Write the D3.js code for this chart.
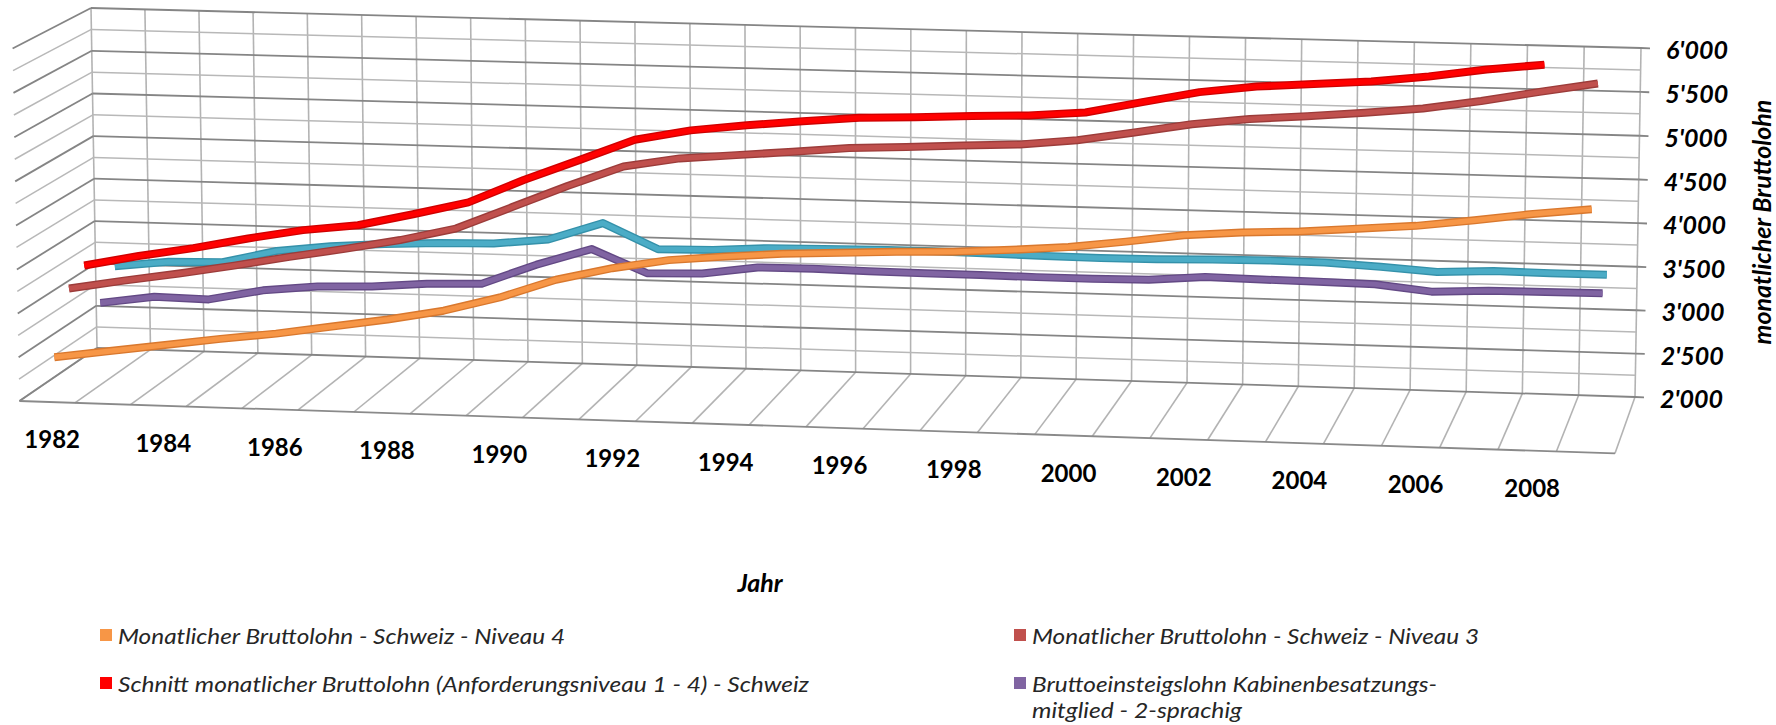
<!DOCTYPE html>
<html>
<head>
<meta charset="utf-8">
<script src="https://cdn.jsdelivr.net/npm/d3@7"></script>
<style>
  html, body { margin: 0; padding: 0; background: #ffffff; }
  svg { display: block; }
</style>
</head>
<body>
<svg id="chart" width="1776" height="725"></svg>
<script>
// ---- data -------------------------------------------------------------
const years = [1982, 1983, 1984, 1985, 1986, 1987, 1988, 1989, 1990, 1991,
               1992, 1993, 1994, 1995, 1996, 1997, 1998, 1999, 2000, 2001,
               2002, 2003, 2004, 2005, 2006, 2007, 2008, 2009];
const yearLabels = [1982, 1984, 1986, 1988, 1990, 1992, 1994, 1996, 1998, 2000, 2002, 2004, 2006, 2008];
const valueTicks = [2000, 2500, 3000, 3500, 4000, 4500, 5000, 5500, 6000];

// monthly gross wage, CHF
const niveau4   = [2450, 2540, 2630, 2720, 2800, 2900, 3000, 3120, 3290, 3510, 3660, 3770, 3830, 3880,
                   3910, 3940, 3960, 4000, 4050, 4130, 4220, 4270, 4300, 4350, 4400, 4480, 4570, 4640];
const niveau3   = [3120, 3230, 3330, 3440, 3560, 3670, 3790, 3940, 4200, 4460, 4700, 4810, 4865, 4920,
                   4980, 5010, 5045, 5075, 5140, 5245, 5355, 5430, 5480, 5535, 5600, 5700, 5820, 5930];
const schnitt   = [3270, 3400, 3510, 3640, 3755, 3830, 3975, 4130, 4405, 4650, 4900, 5025, 5100, 5165,
                   5220, 5245, 5275, 5300, 5350, 5485, 5615, 5695, 5740, 5785, 5860, 5955, 6025];
const einstieg2 = [2720, 2810, 2800, 2925, 2990, 3010, 3060, 3080, 3320, 3520, 3260, 3275, 3365, 3370,
                   3360, 3355, 3355, 3350, 3350, 3360, 3410, 3400, 3395, 3385, 3320, 3350, 3355, 3360];
const einstieg1 = [3035, 3105, 3120, 3270, 3345, 3390, 3420, 3435, 3500, 3710, 3425, 3435, 3475, 3485,
                   3495, 3495, 3490, 3480, 3475, 3480, 3495, 3505, 3500, 3470, 3430, 3460, 3455, 3455];

// series, front row first
const seriesIds    = ["niveau4", "niveau3", "schnitt", "einstieg2", "einstieg1"];
const seriesValues = [niveau4, niveau3, schnitt, einstieg2, einstieg1];
const seriesColors = ["#f79646", "#c0504d", "#ff0000", "#8064a2", "#4bacc6"];
const seriesEdges  = ["#d9782e", "#9c3c3a", "#cf0000", "#634985", "#3491aa"];

const legendEntries = [
  { id: "niveau4",   col: 0, row: 0, lines: ["Monatlicher Bruttolohn - Schweiz - Niveau 4"], widths: [447] },
  { id: "niveau3",   col: 1, row: 0, lines: ["Monatlicher Bruttolohn - Schweiz - Niveau 3"], widths: [447] },
  { id: "schnitt",   col: 0, row: 1, lines: ["Schnitt monatlicher Bruttolohn (Anforderungsniveau 1 - 4) - Schweiz"], widths: [691] },
  { id: "einstieg2", col: 1, row: 1, lines: ["Bruttoeinsteigslohn Kabinenbesatzungs-", "mitglied - 2-sprachig"], widths: [405, 210] }
];

// ---- 3-D frame --------------------------------------------------------
// Screen position of the corners of the plot box: u (years) 0..1,
// v (value) 0..1, w (depth) 0 = back wall, 1 = front edge.
const corner = {
  back00: [97, 348], back10: [1635, 397], back11: [1641, 48], back01: [91, 8],
  front00: [19, 399], front10: [1615, 455], front01: [13, 49]
};

function squareToQuad(p0, p1, p2, p3) {
  const [x0, y0] = p0, [x1, y1] = p1, [x2, y2] = p2, [x3, y3] = p3;
  const dx1 = x1 - x2, dx2 = x3 - x2, dx3 = x0 - x1 + x2 - x3;
  const dy1 = y1 - y2, dy2 = y3 - y2, dy3 = y0 - y1 + y2 - y3;
  const den = dx1 * dy2 - dx2 * dy1;
  const g = (dx3 * dy2 - dx2 * dy3) / den;
  const h = (dx1 * dy3 - dx3 * dy1) / den;
  return { a: x1 - x0 + g * x1, b: x3 - x0 + h * x3, c: x0,
           d: y1 - y0 + g * y1, e: y3 - y0 + h * y3, f: y0, g, h };
}

function solve3(M, r) {
  const A = M.map((row, i) => row.concat([r[i]]));
  for (let i = 0; i < 3; i++) {
    let piv = i;
    for (let k = i + 1; k < 3; k++) if (Math.abs(A[k][i]) > Math.abs(A[piv][i])) piv = k;
    [A[i], A[piv]] = [A[piv], A[i]];
    for (let k = 0; k < 3; k++) {
      if (k === i) continue;
      const fct = A[k][i] / A[i][i];
      for (let j = i; j < 4; j++) A[k][j] -= fct * A[i][j];
    }
  }
  return [A[0][3] / A[0][0], A[1][3] / A[1][1], A[2][3] / A[2][2]];
}

const H = squareToQuad(corner.back00, corner.back10, corner.back11, corner.back01);

// depth column of the camera matrix, least squares over the front corners
const depthCol = (() => {
  const pts = [[0, 0, corner.front00], [1, 0, corner.front10], [0, 1, corner.front01]];
  const rows = [], rhs = [];
  pts.forEach(([u, v, [X, Y]]) => {
    const den = H.g * u + H.h * v + 1;
    rows.push([1, 0, -X]); rhs.push(X * den - (H.a * u + H.b * v + H.c));
    rows.push([0, 1, -Y]); rhs.push(Y * den - (H.d * u + H.e * v + H.f));
  });
  const N = [[0, 0, 0], [0, 0, 0], [0, 0, 0]], b = [0, 0, 0];
  rows.forEach((row, k) => {
    for (let i = 0; i < 3; i++) {
      b[i] += row[i] * rhs[k];
      for (let j = 0; j < 3; j++) N[i][j] += row[i] * row[j];
    }
  });
  return solve3(N, b);
})();

function project(u, v, w) {
  const [p, q, r] = depthCol;
  const den = H.g * u + H.h * v + r * w + 1;
  return [(H.a * u + H.b * v + p * w + H.c) / den,
          (H.d * u + H.e * v + q * w + H.f) / den];
}

// ---- scales -----------------------------------------------------------
const xBand = d3.scaleBand().domain(years).range([0, 1]);
const uOf = yr => xBand(yr) + xBand.bandwidth() / 2;
const vScale = d3.scaleLinear().domain([2000, 6000]).range([0, 1]);
const zBand = d3.scaleBand().domain(seriesIds).range([1, 0]);
const wOf = id => zBand(id) + zBand.bandwidth() / 2;

const fmt = d3.formatLocale({ decimal: ".", thousands: "'", grouping: [3], currency: ["", ""] }).format(",");

const svg = d3.select("#chart");
const seg = (a, b) => d3.line()([a, b]);

// ---- walls and floor --------------------------------------------------
const grid = svg.append("g").attr("fill", "none").attr("stroke-linecap", "butt");
const gridValues = d3.range(2000, 6001, 250);
const isMajor = val => val % 500 === 0;

// vertical lines of the back wall
grid.selectAll("path.bv").data(d3.range(0, years.length + 1)).join("path")
  .attr("class", "bv")
  .attr("d", i => seg(project(i / years.length, 0, 0), project(i / years.length, 1, 0)))
  .attr("stroke", "#b3b3b3").attr("stroke-width", 1.6);

// floor lines from the back wall to the front edge
grid.selectAll("path.fl").data(d3.range(0, years.length + 1)).join("path")
  .attr("class", "fl")
  .attr("d", i => seg(project(i / years.length, 0, 0), project(i / years.length, 0, 1)))
  .attr("stroke", "#b3b3b3").attr("stroke-width", 1.6);

// minor horizontal lines first, majors on top
const ordered = gridValues.filter(v => !isMajor(v)).concat(gridValues.filter(isMajor));
grid.selectAll("path.bh").data(ordered).join("path")
  .attr("class", "bh")
  .attr("d", val => seg(project(0, vScale(val), 0), project(1, vScale(val), 0)))
  .attr("stroke", val => isMajor(val) ? "#858585" : "#b8b8b8")
  .attr("stroke-width", val => isMajor(val) ? 1.8 : 1.5);

// left side wall
grid.selectAll("path.lw").data(ordered).join("path")
  .attr("class", "lw")
  .attr("d", val => seg(project(0, vScale(val), 0), project(0, vScale(val), 1)))
  .attr("stroke", val => isMajor(val) ? "#858585" : "#b8b8b8")
  .attr("stroke-width", val => isMajor(val) ? 1.8 : 1.5);

// front edge of the floor
grid.append("path")
  .attr("d", seg(project(0, 0, 1), project(1, 0, 1)))
  .attr("stroke", "#8a8a8a").attr("stroke-width", 1.8);

// tick marks of the value axis
grid.selectAll("path.tk").data(valueTicks).join("path")
  .attr("class", "tk")
  .attr("d", val => {
    const p = project(1, vScale(val), 0);
    return seg(p, [p[0] + 9, p[1] + 0.3]);
  })
  .attr("stroke", "#858585").attr("stroke-width", 1.8);

// ---- series ribbons (back to front) -----------------------------------
const line = d3.line().curve(d3.curveLinear);
const seriesData = seriesIds.map((id, i) => ({
  id, color: seriesColors[i], edge: seriesEdges[i],
  pts: seriesValues[i].map((val, k) => project(uOf(years[k]), vScale(val), wOf(id)))
}));

const ribbons = svg.append("g").attr("fill", "none")
  .attr("stroke-linejoin", "round").attr("stroke-linecap", "butt");
seriesData.slice().reverse().forEach(s => {
  ribbons.append("path").attr("d", line(s.pts))
    .attr("stroke", s.edge).attr("stroke-width", 8);
  ribbons.append("path").attr("d", line(s.pts))
    .attr("stroke", s.color).attr("stroke-width", 5.2);
});

// ---- axis labels ------------------------------------------------------
const labelFont = "Lato, 'Open Sans', 'DejaVu Sans', sans-serif";

svg.append("g").selectAll("text").data(yearLabels).join("text")
  .attr("x", yr => project(uOf(yr), 0, 1)[0] + 5)
  .attr("y", yr => project(uOf(yr), 0, 1)[1] + 37)
  .attr("text-anchor", "middle").attr("dominant-baseline", "central")
  .attr("font-family", labelFont).attr("font-weight", "bold").attr("font-size", 24)
  .attr("fill", "#000")
  .text(d => d);

svg.append("g").selectAll("text").data(valueTicks).join("text")
  .attr("x", val => project(1, vScale(val), 0)[0] + 25)
  .attr("y", val => project(1, vScale(val), 0)[1] + 1)
  .attr("text-anchor", "start").attr("dominant-baseline", "central")
  .attr("font-family", labelFont).attr("font-weight", "bold").attr("font-style", "italic")
  .attr("font-size", 25).attr("fill", "#000")
  .text(fmt);

svg.append("text")
  .attr("transform", "translate(1761,222) rotate(-90)")
  .attr("text-anchor", "middle").attr("dominant-baseline", "central")
  .attr("font-family", labelFont).attr("font-weight", "bold").attr("font-style", "italic")
  .attr("font-size", 25).attr("fill", "#000")
  .text("monatlicher Bruttolohn");

svg.append("text")
  .attr("x", 760).attr("y", 582)
  .attr("text-anchor", "middle").attr("dominant-baseline", "central")
  .attr("font-family", labelFont).attr("font-weight", "bold").attr("font-style", "italic")
  .attr("font-size", 25).attr("fill", "#000")
  .text("Jahr");

// ---- legend -----------------------------------------------------------
const legendCols = [100, 1014], legendRows = [635, 683];
const legend = svg.append("g").attr("font-family", labelFont)
  .attr("font-style", "italic").attr("font-size", 21).attr("fill", "#262626");
legendEntries.forEach(entry => {
  const i = seriesIds.indexOf(entry.id);
  const x = legendCols[entry.col], y = legendRows[entry.row];
  legend.append("rect").attr("x", x).attr("y", y - 6).attr("width", 12).attr("height", 12)
    .attr("fill", seriesColors[i]);
  entry.lines.forEach((txt, j) => {
    legend.append("text").attr("x", x + 18).attr("y", y + 26 * j)
      .attr("dominant-baseline", "central")
      .attr("textLength", entry.widths[j]).attr("lengthAdjust", "spacingAndGlyphs")
      .text(txt);
  });
});
</script>
</body>
</html>
